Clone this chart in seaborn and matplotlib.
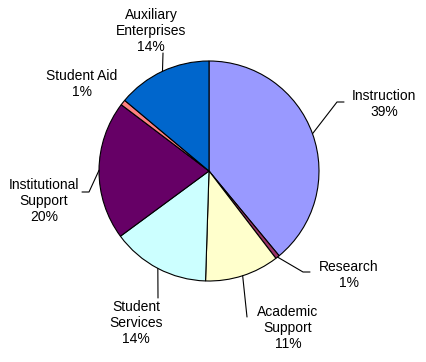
import numpy as np
import matplotlib
matplotlib.use("Agg")
import matplotlib.pyplot as plt
import seaborn as sns

# spending shares (percent), clockwise from 12 o'clock
categories = ["Instruction", "Research", "Academic Support", "Student Services",
              "Institutional Support", "Student Aid", "Auxiliary Enterprises"]
shares = [39.0, 0.6, 10.9, 14.4, 20.4, 0.8, 13.9]
label_names = ["Instruction", "Research", "Academic\nSupport", "Student\nServices",
               "Institutional\nSupport", "Student Aid", "Auxiliary\nEnterprises"]
colors = ["#9999FF", "#993366", "#FFFFCC", "#CCFFFF", "#660066", "#FF8080", "#0066CC"]

# label placement in pixel coords (x, y from top) and leader elbows
label_pos = [(384, 104), (349, 275), (288, 328), (136, 323), (44, 201), (82, 84), (151, 31)]
leaders = [[(337, 102), (344, 102)], [(303, 272), (310, 272)], [(247, 317)],
           [(158, 298)], [(89, 192), (82, 192)], [], [(163, 53)]]

sns.set_theme(style="white")
plt.rcParams["font.family"] = ["Liberation Sans", "DejaVu Sans"]

W, H = 426, 362
fig = plt.figure(figsize=(W / 100, H / 100), dpi=100)
ax = fig.add_axes([0, 0, 1, 1])
ax.set_xlim(0, W)
ax.set_ylim(H, 0)  # y runs downward, so counterclock=True draws clockwise on screen
ax.axis("off")

cx, cy, r = 209, 171, 110
wedges, _ = ax.pie(shares, colors=colors, startangle=-90, counterclock=True,
                   center=(cx, cy), radius=r, frame=True,
                   wedgeprops=dict(edgecolor="black", linewidth=0.8))
ax.set_xlim(0, W)
ax.set_ylim(H, 0)
ax.axis("off")

for w, name, val, (tx, ty), elbow in zip(wedges, label_names, shares, label_pos, leaders):
    if elbow:
        mid = np.deg2rad((w.theta1 + w.theta2) / 2)
        pts = [(cx + r * np.cos(mid), cy + r * np.sin(mid))] + elbow
        xs, ys = zip(*pts)
        ax.plot(xs, ys, color="black", linewidth=0.8)
    ax.text(tx, ty, f"{name}\n{round(val)}%", ha="center", va="center",
            multialignment="center", fontsize=10, color="black", linespacing=1.2)

fig.savefig("out.png", dpi=100, facecolor="white")
